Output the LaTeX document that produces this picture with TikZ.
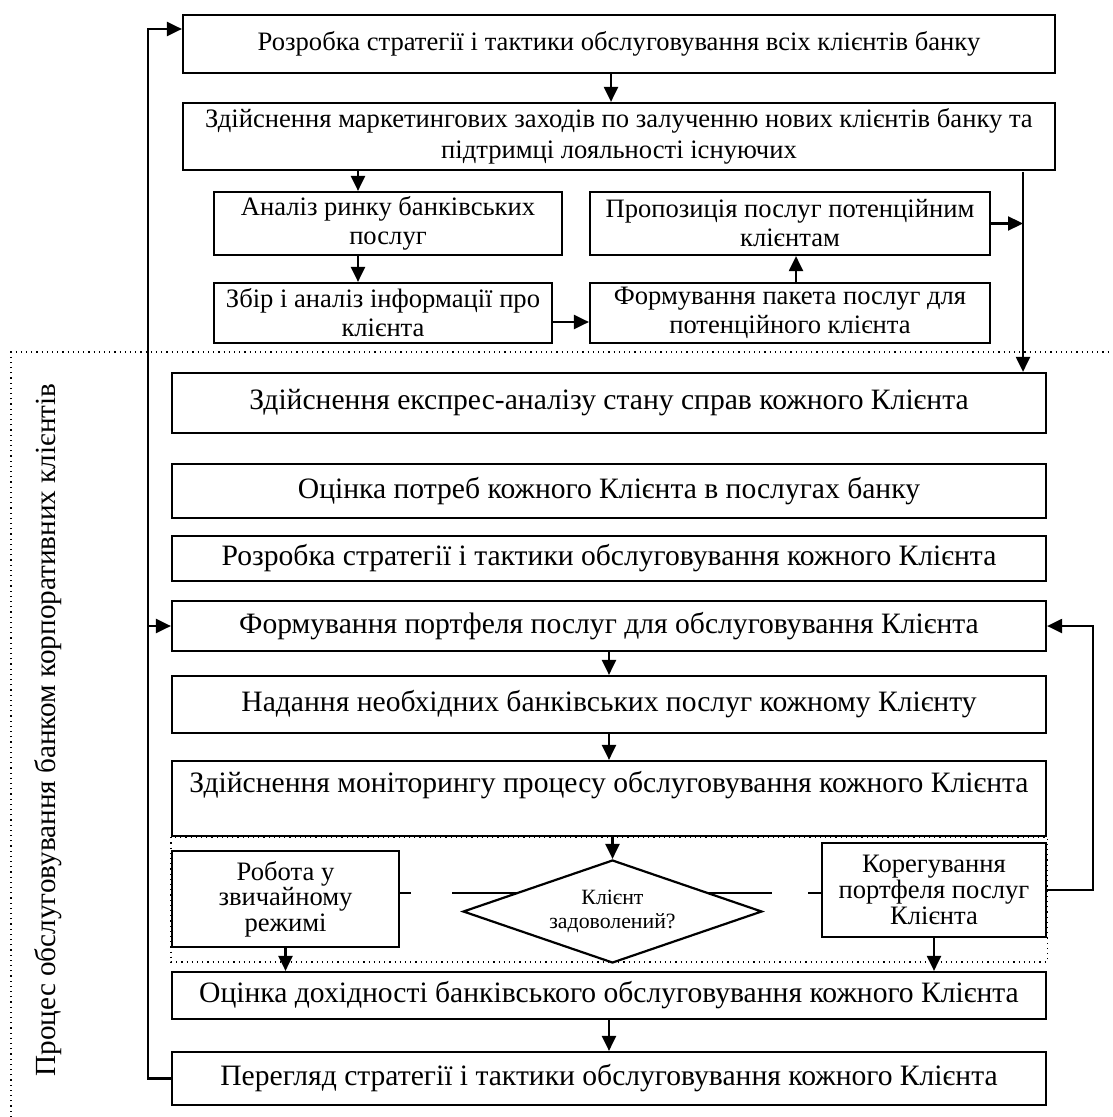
\documentclass[tikz,border=0pt]{standalone}
\usepackage{fontspec}
\setmainfont{Liberation Serif}
\usetikzlibrary{positioning}
\usetikzlibrary{arrows.meta}
\usetikzlibrary{shapes.geometric}
\usetikzlibrary{backgrounds}

\begin{document}
\begin{tikzpicture}[
    x=0.5pt, y=-0.5pt,
    >={Triangle[length=7.5pt,width=7pt]},
    every node/.style={draw=black, line width=1.1pt, inner sep=2pt, align=center},
    topbox/.style={font=\fontsize{13.3}{14.5}\selectfont},
    mainbox/.style={font=\fontsize{14.8}{16}\selectfont, minimum width=437pt},
    sidebox/.style={font=\fontsize{13.3}{12.8}\selectfont},
    decision/.style={diamond, aspect=2.9, inner sep=0pt, fill=white, font=\fontsize{10.9}{12}\selectfont},
    link/.style={line width=1.1pt},
    frame/.style={line width=0.6pt, dotted}
]
\useasboundingbox (0,0) rectangle (1112,1117);
% Upper part: attracting clients
\node[topbox, minimum width=436pt, minimum height=29pt] (allstrat) at (619,44) {Розробка стратегії і тактики обслуговування всіх клієнтів банку};
\node[topbox, minimum width=436pt, minimum height=33.5pt, font=\fontsize{13.3}{15.5}\selectfont] (market) at (619,136.5) {Здійснення маркетингових заходів по залученню нових клієнтів банку та\\підтримці лояльності існуючих};
\node[topbox, minimum width=174pt, minimum height=31.5pt] (analysis) at (388,223.5) {Аналіз ринку банківських\\послуг};
\node[topbox, minimum width=169pt, minimum height=30pt] (collect) at (383,313) {Збір і аналіз інформації про\\клієнта};
\node[topbox, minimum width=200pt, minimum height=30pt] (package) at (790,313) {Формування пакета послуг для\\потенційного клієнта};
\node[topbox, minimum width=200pt, minimum height=31.5pt] (offer) at (790,223.5) {Пропозиція послуг потенційним\\клієнтам};
% Lower part: serving each client
\node[mainbox, minimum height=30pt] (express) at (609,403) {Здійснення експрес-аналізу стану справ кожного Клієнта};
\node[mainbox, minimum height=27pt] (needs) at (609,491) {Оцінка потреб кожного Клієнта в послугах банку};
\node[mainbox, minimum height=22.5pt] (strat) at (609,558.5) {Розробка стратегії і тактики обслуговування кожного Клієнта};
\node[mainbox, minimum height=25pt] (portf) at (609,626) {Формування портфеля послуг для обслуговування Клієнта};
\node[mainbox, minimum height=28.5pt] (provide) at (609,704.5) {Надання необхідних банківських послуг кожному Клієнту};
\node[mainbox, minimum height=37.5pt, text height=10.5pt, text depth=17pt] (monitor) at (609,798.5) {Здійснення моніторингу процесу обслуговування кожного Клієнта};
\node[sidebox, minimum width=113.5pt, minimum height=48pt] (routine) at (285.5,899) {Робота у\\звичайному\\режимі};
\node[decision, minimum width=149.5pt, minimum height=51.5pt] (dec) at (612.5,911.5) {Клієнт\\задоволений?};
\node[sidebox, minimum width=112pt, minimum height=47pt] (kor) at (934,890) {Корегування\\портфеля послуг\\Клієнта};
\node[mainbox, minimum height=23.5pt] (profit) at (609,995.5) {Оцінка дохідності банківського обслуговування кожного Клієнта};
\node[mainbox, minimum height=26.5pt] (review) at (609,1078.5) {Перегляд стратегії і тактики обслуговування кожного Клієнта};
% Side label
\node[draw=none, rotate=90, font=\fontsize{14.6}{16}\selectfont] (proc) at (48,730) {Процес обслуговування банком корпоративних клієнтів};
% Dotted frames
\draw[frame] (11,1117) -- (11,352) -- (1112,352);
\draw[frame] (monitor.south west) rectangle ([yshift=4.5pt]profit.north east);
% Helper points
\coordinate (fbL) at (148,29);
\coordinate (drop) at (1023,172);
\coordinate (gl1) at (411,893);
\coordinate (gl2) at (452,893);
\coordinate (gr1) at (772,893);
\coordinate (gr2) at (808,893);
% Edges of upper part
\draw[link,->] ([xshift=-4pt]allstrat.south) -- ([xshift=-4pt]market.north);
\draw[link,->] ([xshift=-15pt]analysis.north |- market.south) -- ([xshift=-15pt]analysis.north);
\draw[link,->] ([xshift=-15pt]analysis.south) -- ([xshift=-15pt]analysis.south |- collect.north);
\draw[link,->] ([yshift=-4.5pt]collect.east) -- ([yshift=-4.5pt]collect.east -| package.west);
\draw[link,->] ([xshift=3pt]package.north) -- ([xshift=3pt]offer.south);
\draw[link,->] (offer.east) -- (offer.east -| drop);
\draw[link,->] (drop) -- (drop |- express.north);
% Edges of lower part
\draw[link,->] (portf.south) -- (provide.north);
\draw[link,->] (provide.south) -- (monitor.north);
\draw[link,->] (dec.north |- monitor.south) -- (dec.north);
\draw[link] (routine.east |- gl1) -- (gl1);
\draw[link] (gr2) -- (kor.west |- gr2);
\begin{scope}[on background layer]
\draw[link] (gl2) -- (dec.center |- gl2);
\draw[link] (dec.center |- gr1) -- (gr1);
\end{scope}
\draw[link,->] (routine.south) -- (routine.south |- profit.north);
\draw[link,->] (kor.south) -- (kor.south |- profit.north);
\draw[link,->] (kor.east) -- ++(46,0) |- (portf.east);
\draw[link,->] (profit.south) -- (review.north);
% Feedback loop
\draw[link,->] (review.west) -| (fbL) -- (fbL -| allstrat.west);
\draw[link,->] (fbL |- portf.west) -- (portf.west);

\end{tikzpicture}
\end{document}
